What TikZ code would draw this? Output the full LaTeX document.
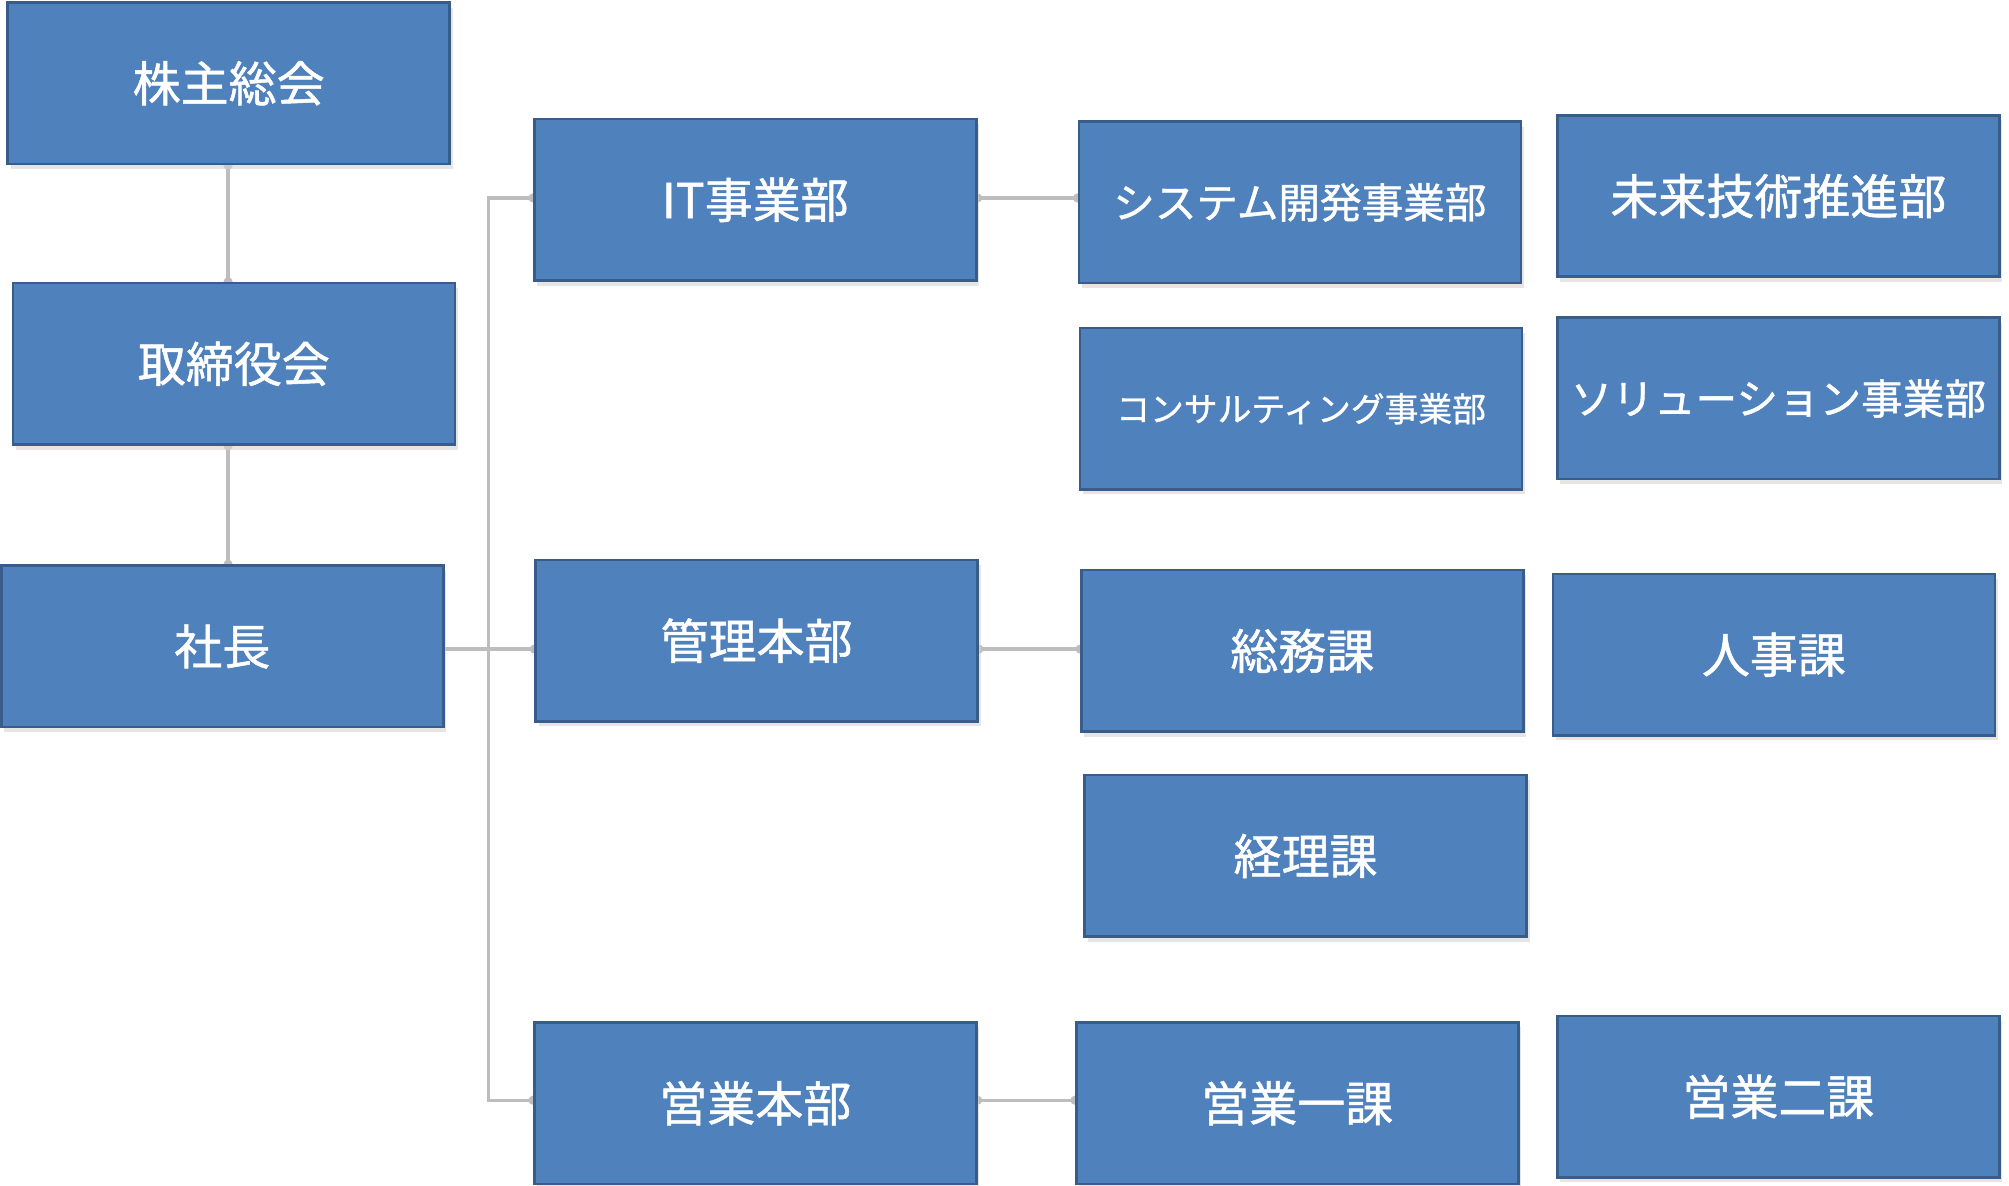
\documentclass[tikz,border=0pt]{standalone}
\usepackage{fontspec}
\setmainfont{Noto Sans CJK JP}[FakeBold=1]
\usetikzlibrary{shadows}
\pgfdeclarelayer{background}
\pgfsetlayers{background,main}
\definecolor{boxfill}{HTML}{4F81BD}
\definecolor{boxline}{HTML}{385D8A}
\definecolor{conn}{HTML}{BDBDBD}
\definecolor{shadowc}{HTML}{D8D2CF}
\begin{document}
\begin{tikzpicture}[x=0.6406pt,y=-0.6406pt,
  orgbox/.style={draw=boxline, fill=boxfill, line width=1.3pt,
    minimum width=221pt, minimum height=80.7pt, inner sep=2pt,
    text=white, font=\fontsize{24}{28}\selectfont,
    drop shadow={shadow xshift=1.5pt, shadow yshift=-2.5pt, fill=shadowc, opacity=0.6}},
  midfont/.style={font=\fontsize{20.8}{24}\selectfont},
  smallfont/.style={font=\fontsize{16.9}{20}\selectfont},
  link/.style={draw=conn, line width=1.6pt},
  enddot/.style={fill=conn}]
\useasboundingbox (0,0) rectangle (1568,925.6);

% left column
\node[orgbox] (kabu)   at (178.5,65)  {株主総会};
\node[orgbox] (tori)   at (182.5,284) {取締役会};
\node[orgbox] (shacho) at (173.5,504.5) {社長};

% middle column
\node[orgbox] (it)    at (589.5,156)   {IT事業部};
\node[orgbox] (kanri) at (590.5,500)   {管理本部};
\node[orgbox] (eigyo) at (589.5,861)   {営業本部};

% right columns
\node[orgbox, midfont]   (sys)   at (1014.5,158)  {システム開発事業部};
\node[orgbox]            (mirai) at (1388,153)    {未来技術推進部};
\node[orgbox, smallfont] (cons)  at (1015.5,319)  {コンサルティング事業部};
\node[orgbox, midfont]   (sol)   at (1388,311)    {ソリューション事業部};
\node[orgbox]            (somu)  at (1016.5,508)  {総務課};
\node[orgbox]            (jinji) at (1384.5,511)  {人事課};
\node[orgbox]            (keiri) at (1019,668)    {経理課};
\node[orgbox]            (ei1)   at (1012.5,861)  {営業一課};
\node[orgbox]            (ei2)   at (1388,856)    {営業二課};

% connector reference coordinates
\coordinate (vX)   at (178,0);
\coordinate (tTop) at (381.5,154.5);
\coordinate (jS)   at (381.5,506.6);
\coordinate (tBot) at (381.5,858.7);

\begin{pgfonlayer}{background}
  \draw[link] (kabu.south -| vX) -- (tori.north -| vX);
  \draw[link] (tori.south -| vX) -- (shacho.north -| vX);
  \draw[link] (shacho.east |- jS) -- (kanri.west |- jS);
  \draw[link] (it.west |- tTop) -- (tTop) -- (tBot) -- (eigyo.west |- tBot);
  \draw[link] (it.east |- tTop) -- (sys.west |- tTop);
  \draw[link] (kanri.east |- jS) -- (somu.west |- jS);
  \draw[link] (eigyo.east |- tBot) -- (ei1.west |- tBot);
  % connection dots
  \fill[enddot] (kabu.south -| vX) circle (2.3pt);
  \fill[enddot] (tori.north -| vX) circle (2.3pt);
  \fill[enddot] (tori.south -| vX) circle (2.3pt);
  \fill[enddot] (shacho.north -| vX) circle (2.3pt);
  \fill[enddot] (kanri.west |- jS) circle (2.3pt);
  \fill[enddot] (it.west |- tTop) circle (2.3pt);
  \fill[enddot] (eigyo.west |- tBot) circle (2.3pt);
  \fill[enddot] (it.east |- tTop) circle (2.3pt);
  \fill[enddot] (sys.west |- tTop) circle (2.3pt);
  \fill[enddot] (kanri.east |- jS) circle (2.3pt);
  \fill[enddot] (somu.west |- jS) circle (2.3pt);
  \fill[enddot] (eigyo.east |- tBot) circle (2.3pt);
  \fill[enddot] (ei1.west |- tBot) circle (2.3pt);
\end{pgfonlayer}
\end{tikzpicture}
\end{document}
